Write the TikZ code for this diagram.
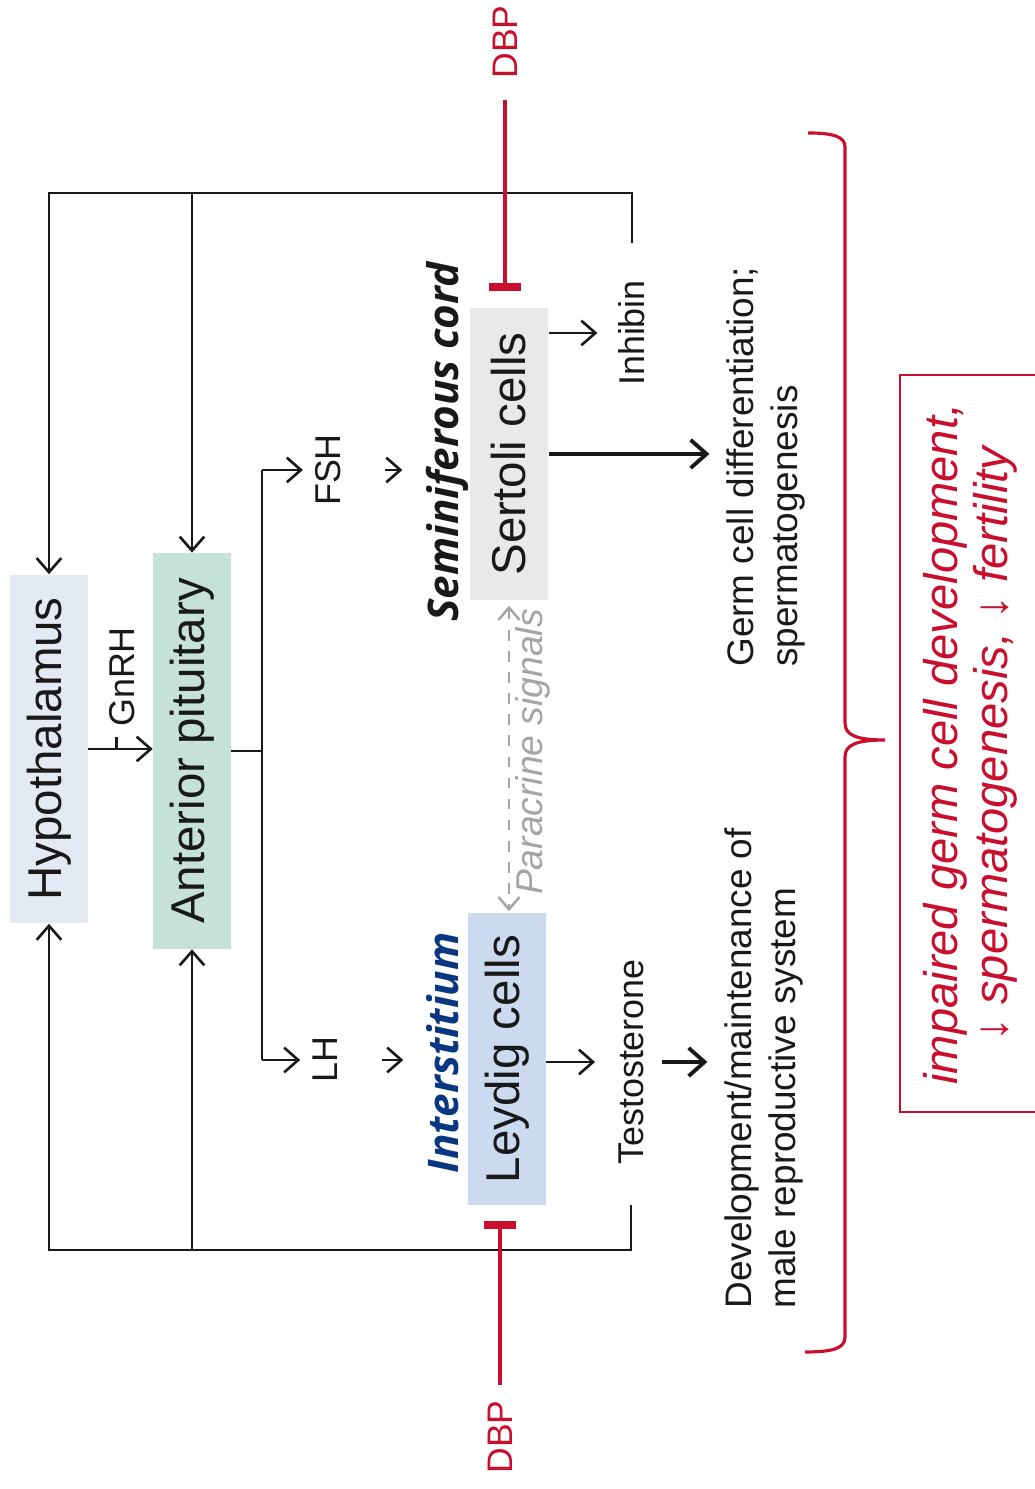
\documentclass[tikz,border=0pt]{standalone}
\usepackage{fontspec}
\setmainfont{Liberation Sans}
\newfontfamily\cordfont{Open Sans}
\usetikzlibrary{arrows.meta}

\definecolor{ink}{RGB}{25,25,25}
\definecolor{hypfill}{RGB}{228,234,244}
\definecolor{apfill}{RGB}{198,226,216}
\definecolor{sertfill}{RGB}{233,233,233}
\definecolor{leyfill}{RGB}{204,218,239}
\definecolor{dbpred}{RGB}{200,16,46}
\definecolor{interblue}{RGB}{10,55,130}
\definecolor{paragray}{RGB}{165,165,165}

\begin{document}
\begin{tikzpicture}[x=0.01cm, y=0.01cm, rotate=90, transform shape, text=ink,
	box/.style={minimum height=0.77cm, inner sep=0pt, font=\fontsize{13.5}{16}\selectfont},
	lbl/.style={font=\fontsize{10.2}{12}\selectfont},
	twoline/.style={anchor=west, align=left, font=\fontsize{10.5}{12.5}\selectfont},
	cord/.style={font=\cordfont\bfseries\itshape\fontsize{12}{14}\selectfont},
	link/.style={draw=ink, line width=0.75pt},
	arr/.style={link, -{Straight Barb[length=4pt,width=7pt]}},
	bigarr/.style={draw=ink, line width=1.1pt, -{Straight Barb[length=4.5pt,width=8pt]}},
	para/.style={draw=paragray, line width=0.7pt, dashed, {Straight Barb[length=3.5pt,width=6pt]}-{Straight Barb[length=3.5pt,width=6pt]}},
	dbpline/.style={draw=dbpred, line width=1.4pt, -{Bar[width=0.31cm, line width=2.3pt]}},
	dbptext/.style={text=dbpred, font=\fontsize{10.1}{12}\selectfont}]
	\useasboundingbox (0,0) rectangle (1489,1034);

	% boxes
	\node[box, fill=hypfill, minimum width=3.48cm] (hyp) at (740,985) {Hypothalamus};
	\node[box, fill=apfill, minimum width=3.95cm] (ap) at (738,842) {Anterior pituitary};
	\node[box, fill=sertfill, minimum width=2.92cm, minimum height=0.78cm] (sert) at (1035,525) {Sertoli cells};
	\node[box, fill=leyfill, minimum width=2.92cm] (leyd) at (430,527) {Leydig cells};

	% labels
	\node[lbl] (gnrh) at (812,912) {GnRH};
	\node[lbl] (fsh) at (1019,706) {FSH};
	\node[lbl] (lh) at (429,709) {LH};
	\node[cord] (semi) at (1047,587) {Seminiferous cord};
	\node[cord, text=interblue] (inter) at (436,591) {Interstitium};
	\node[lbl] (inhib) at (1156,402) {Inhibin};
	\node[lbl] (testo) at (427,403) {Testosterone};
	\node[twoline] (germ) at (810,268) {Germ cell differentiation;\\spermatogenesis};
	\node[twoline] (devel) at (168,270) {Development/maintenance of\\male reproductive system};
	\node[text=paragray, font=\itshape\fontsize{10.6}{12}\selectfont] (parac) at (737,501) {Paracrine signals};
	\node[dbptext] (dbp1) at (1447,529) {DBP};
	\node[dbptext] (dbp2) at (52,534) {DBP};
	\node[text=dbpred, align=center, font=\itshape\fontsize{13.4}{14.2}\selectfont] (effect) at (745,64)
		{impaired germ cell development,\\↓ spermatogenesis, ↓ fertility};

	% axis
	\draw[arr] (hyp.south) -- (hyp.south |- ap.north);
	\draw[link] (hyp.south) ++(0,-28) -- ++(12,0);
	\coordinate (lvl) at (0,772);
	\draw[link] (ap.south) -- (ap.south |- lvl);
	\draw[link] (fsh |- lvl) -- (lh |- lvl);
	\foreach \h/\c in {fsh/semi,lh/inter} {
		\draw[arr] (\h |- lvl) -- (\h.north);
		\draw[arr, shorten <=0.32cm, shorten >=0.11cm] (\h.south) -- (\h.south |- \c.north);
	}
	\draw[arr, shorten >=0.09cm] (sert.south -| inhib) -- (inhib.north);
	\draw[arr, shorten >=0.11cm] (leyd.south -| testo) -- (testo.north);
	\draw[bigarr, shorten >=0.05cm] (sert.south) -- (sert.south |- germ.north);
	\draw[bigarr, shorten <=0.06cm, shorten >=0.05cm] (testo.south) -- (testo.south |- devel.north);
	\draw[para, shorten <=0.05cm, shorten >=0.01cm] (sert.west) -- (sert.west -| leyd.east);

	% feedback
	\coordinate (rt) at (1296,0);
	\coordinate (lb) at (239,0);
	\draw[arr, shorten <=0.25cm] (inhib.east) -- (inhib.east -| rt) |- (hyp.east);
	\draw[arr] (rt |- ap.east) -- (ap.east);
	\draw[arr, shorten <=0.28cm] (testo.west) -- (testo.west -| lb) |- (hyp.west);
	\draw[arr] (lb |- ap.west) -- (ap.west);

	% DBP
	\draw[dbpline, shorten <=0.09cm, shorten >=0.16cm] (dbp1.west) -- (dbp1.west -| sert.east);
	\draw[dbpline, shorten <=0.03cm, shorten >=0.15cm] (dbp2.east) -- (dbp2.east -| leyd.west);
	\draw[dbpred, line width=0.9pt] (137,229) .. controls (137,200) and (141,189) .. (152,189)
		-- (732,189) .. controls (744,189) and (749,178) .. (749,149)
		.. controls (749,178) and (754,189) .. (766,189)
		-- (1342,189) .. controls (1352,189) and (1356,200) .. (1356,226);
	\draw[dbpred, line width=0.8pt] (377,-5) -- (377,134) -- (1114,134) -- (1114,-5);
\end{tikzpicture}
\end{document}
